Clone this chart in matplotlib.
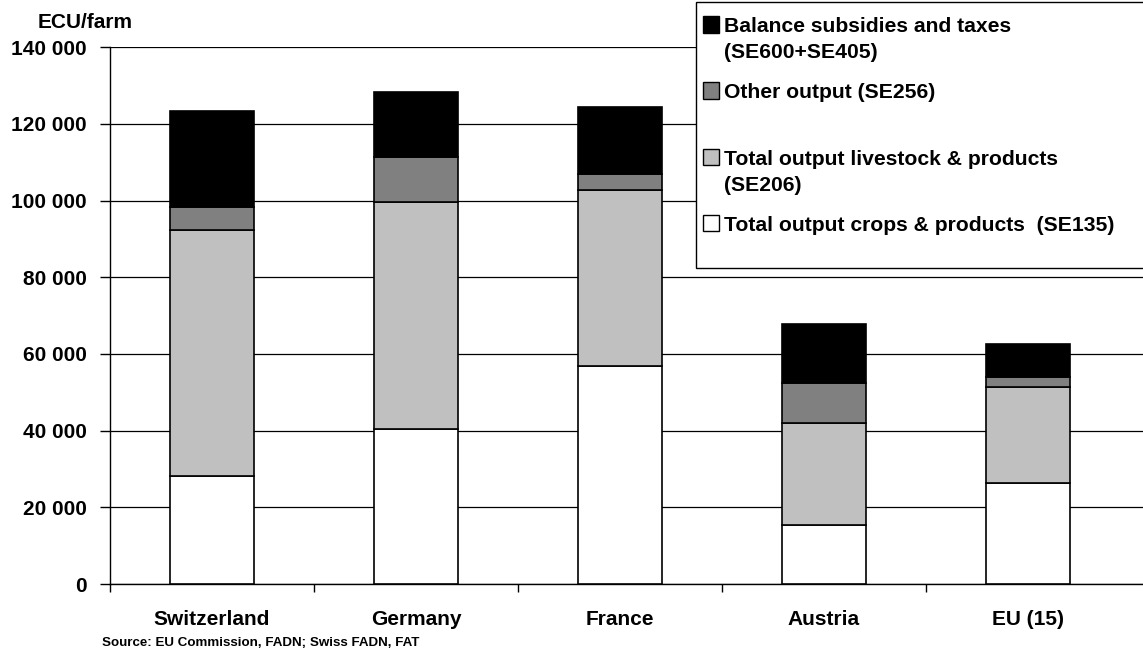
import numpy as np
import matplotlib
matplotlib.use('Agg')
import matplotlib.pyplot as plt
from matplotlib.patches import Rectangle
from matplotlib.ticker import FuncFormatter

plt.rcParams['font.family'] = ['Liberation Sans', 'DejaVu Sans']
plt.rcParams['font.weight'] = 'bold'

# farm output per country, ECU/farm (stacked bottom to top)
countries = ['Switzerland', 'Germany', 'France', 'Austria', 'EU (15)']
crops = [28200, 40400, 56800, 15400, 26300]
livestock = [64100, 59300, 46100, 26600, 25000]
other = [6100, 11800, 4100, 10500, 2600]
balance = [25000, 16900, 17300, 15300, 8600]

series = [
    ('Total output crops & products  (SE135)', crops, 'white'),
    ('Total output livestock & products\n(SE206)', livestock, '#c0c0c0'),
    ('Other output (SE256)', other, '#808080'),
    ('Balance subsidies and taxes\n(SE600+SE405)', balance, 'black'),
]

W, H = 1143, 661
fig = plt.figure(figsize=(W / 100, H / 100), dpi=100)


def fx(px):
    return px / W


def fy(py):
    return 1 - py / H


ax = fig.add_axes([fx(110), fy(584), fx(1143 - 110), (584 - 47.3) / H])

x = np.arange(len(countries))
bottom = np.zeros(len(countries))
for label, vals, color in series:
    ax.bar(x, vals, width=0.41, bottom=bottom, color=color,
           edgecolor='black', linewidth=1.2, zorder=3)
    bottom += np.array(vals)

ax.set_xlim(-0.5, 4.565)
ax.set_ylim(0, 140000)
ax.set_yticks(np.arange(0, 140001, 20000))
ax.yaxis.set_major_formatter(FuncFormatter(lambda v, p: f'{int(v):,}'.replace(',', ' ')))
ax.yaxis.grid(True, color='black', linewidth=0.9, zorder=0)
ax.set_axisbelow(True)

ax.set_xticks(x)
ax.set_xticklabels(countries)
ax.set_xticks(np.arange(-0.5, 4.0, 1.0), minor=True)
ax.tick_params(axis='x', which='major', length=0, pad=19, labelsize=15)
ax.tick_params(axis='x', which='minor', length=6, width=1, color='black', direction='out')
ax.tick_params(axis='y', length=7, width=1, pad=10, labelsize=15, direction='out')
for lab in ax.get_xticklabels() + ax.get_yticklabels():
    lab.set_fontweight('bold')

for s in ['top', 'right']:
    ax.spines[s].set_visible(False)
for s in ['left', 'bottom']:
    ax.spines[s].set_color('black')
    ax.spines[s].set_linewidth(1)

fig.text(fx(38), fy(22), 'ECU/farm', fontsize=15, fontweight='bold', va='center', ha='left')
fig.text(fx(102), fy(643), 'Source: EU Commission, FADN; Swiss FADN, FAT',
         fontsize=9.6, fontweight='bold', va='center', ha='left')

# legend box, drawn over the grid
fig.patches.append(Rectangle((fx(696), fy(268)), fx(1160 - 696), (268 - 2) / H,
                             transform=fig.transFigure, facecolor='white',
                             edgecolor='black', linewidth=1, zorder=5))
legend_rows = [(24.5, 3), (90.5, 2), (157, 1), (222.5, 0)]
for yc, idx in legend_rows:
    label, _, color = series[idx]
    fig.patches.append(Rectangle((fx(703), fy(yc + 8)), fx(16), 16 / H,
                                 transform=fig.transFigure, facecolor=color,
                                 edgecolor='black', linewidth=1, zorder=6))
    fig.text(fx(724), fy(yc - 7), label, fontsize=15.2, fontweight='bold',
             va='top', ha='left', linespacing=1.45, zorder=7)

fig.savefig('out.png', dpi=100, facecolor='white')
